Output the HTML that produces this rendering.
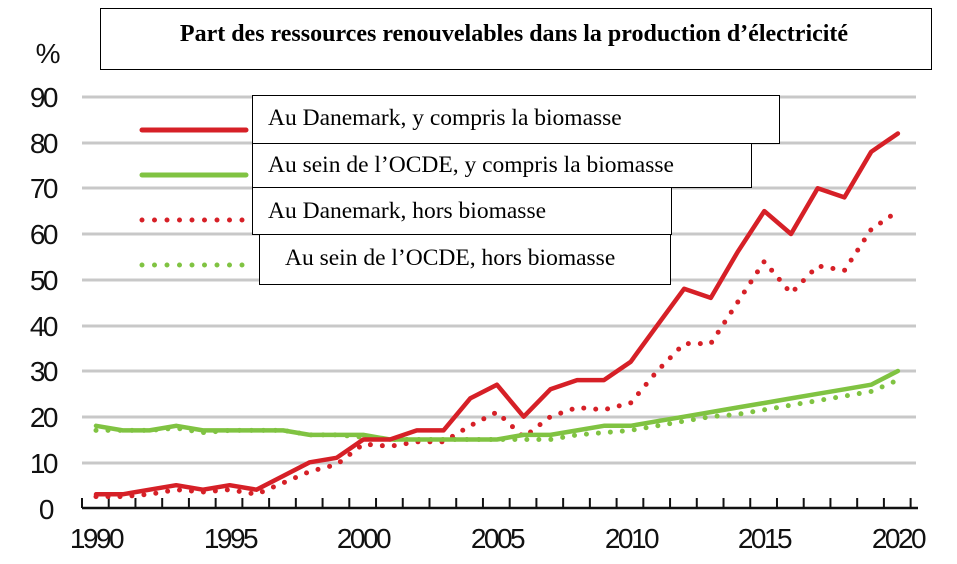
<!DOCTYPE html>
<html><head><meta charset="utf-8"><style>
body{margin:0;background:#fff;}
svg{display:block}
.ax{font-family:"Liberation Sans",sans-serif;font-size:28px;fill:#111;letter-spacing:-2.5px}
.bx{font-family:"Liberation Serif",serif;font-size:23.5px;fill:#000}
</style></head><body>
<svg width="957" height="564" viewBox="0 0 957 564">
<rect width="957" height="564" fill="#fff"/>
<g stroke="#c8c8c8" stroke-width="3">
<line x1="82" x2="916" y1="97" y2="97"/><line x1="82" x2="916" y1="143" y2="143"/>
<line x1="82" x2="916" y1="188" y2="188"/><line x1="82" x2="916" y1="234" y2="234"/>
<line x1="82" x2="916" y1="280" y2="280"/><line x1="82" x2="916" y1="326" y2="326"/>
<line x1="82" x2="916" y1="371" y2="371"/><line x1="82" x2="916" y1="417" y2="417"/>
<line x1="82" x2="916" y1="463" y2="463"/>
</g>
<line x1="82" x2="918" y1="508" y2="508" stroke="#111" stroke-width="2.5"/>
<g stroke="#111" stroke-width="2" id="ticks"></g>
<g class="ax" text-anchor="end">
<text x="56" y="107">90</text><text x="56" y="153">80</text><text x="56" y="198">70</text>
<text x="56" y="244">60</text><text x="56" y="290">50</text><text x="56" y="336">40</text>
<text x="56" y="381">30</text><text x="56" y="427">20</text><text x="56" y="473">10</text>
<text x="52" y="519">0</text><text x="58" y="63">%</text>
</g>
<g class="ax" text-anchor="middle">
<text x="96" y="548">1990</text><text x="230" y="548">1995</text><text x="363" y="548">2000</text>
<text x="497" y="548">2005</text><text x="631" y="548">2010</text><text x="764" y="548">2015</text><text x="898" y="548">2020</text>
</g>
<g id="series" fill="none" stroke-linejoin="round" stroke-linecap="round"></g>
<line x1="142" x2="246" y1="130" y2="130" stroke="#d62027" stroke-width="5" stroke-linecap="round"/>
<line x1="142" x2="246" y1="175" y2="175" stroke="#80c342" stroke-width="5" stroke-linecap="round"/>
<line x1="142" x2="246" y1="220" y2="220" stroke="#d62027" stroke-width="5" stroke-linecap="round" stroke-dasharray="0 12.5"/>
<line x1="142" x2="246" y1="265" y2="265" stroke="#80c342" stroke-width="5" stroke-linecap="round" stroke-dasharray="0 12.5"/>
<g fill="#fff" stroke="#000" stroke-width="1">
<rect x="100.5" y="8.5" width="831" height="61"/>
<rect x="252.5" y="95.5" width="527" height="48"/>
<rect x="252.5" y="143.5" width="499" height="44"/>
<rect x="252.5" y="187.5" width="419" height="47"/>
<rect x="259.5" y="234.5" width="411" height="50"/>
</g>
<text x="514" y="41" text-anchor="middle" class="bx" font-weight="bold" style="font-size:24px">Part des ressources renouvelables dans la production d’électricité</text>
<text x="268" y="125" class="bx">Au Danemark, y compris la biomasse</text>
<text x="268" y="172" class="bx">Au sein de l’OCDE, y compris la biomasse</text>
<text x="268" y="218" class="bx">Au Danemark, hors biomasse</text>
<text x="285" y="265" class="bx">Au sein de l’OCDE, hors biomasse</text>
</svg>
<script>
const ns="http://www.w3.org/2000/svg";
const X=y=>96+(y-1990)*26.73, Y=v=>508-v*4.567;
const data=[
["#80c342",0,[17,17,17,17.5,16.5,17,17,17,16,16,15.5,15,15,15,15,15,15,15,16,16.5,17,18,19,20,20.5,21.5,22.5,23.5,24.5,25.5,28]],
["#d62027",0,[2.5,2.5,3,4,3.5,4,3,5.5,8,9.5,14,13.5,14.5,14.5,18,21,15.5,20,22,21.5,23,30,36,36,45,54,47,53,52,61,65]],
["#80c342",1,[18,17,17,18,17,17,17,17,16,16,16,15,15,15,15,15,16,16,17,18,18,19,20,21,22,23,24,25,26,27,30]],
["#d62027",1,[3,3,4,5,4,5,4,7,10,11,15,15,17,17,24,27,20,26,28,28,32,40,48,46,56,65,60,70,68,78,82]]];
const g=document.getElementById("series");
data.forEach(([c,solid,v])=>{const p=document.createElementNS(ns,"path");
p.setAttribute("d",v.map((a,i)=>(i?"L":"M")+X(1990+i).toFixed(1)+" "+Y(a).toFixed(1)).join(""));
p.setAttribute("stroke",c);p.setAttribute("stroke-width",solid?4.5:5);
if(!solid){p.setAttribute("stroke-dasharray","0 12");}
g.appendChild(p);});
const t=document.getElementById("ticks");
for(let i=0;i<32;i++){const x=82+i*26.73;const l=document.createElementNS(ns,"line");
l.setAttribute("x1",x);l.setAttribute("x2",x);l.setAttribute("y1",498);l.setAttribute("y2",508);t.appendChild(l);}
</script>
</body></html>
